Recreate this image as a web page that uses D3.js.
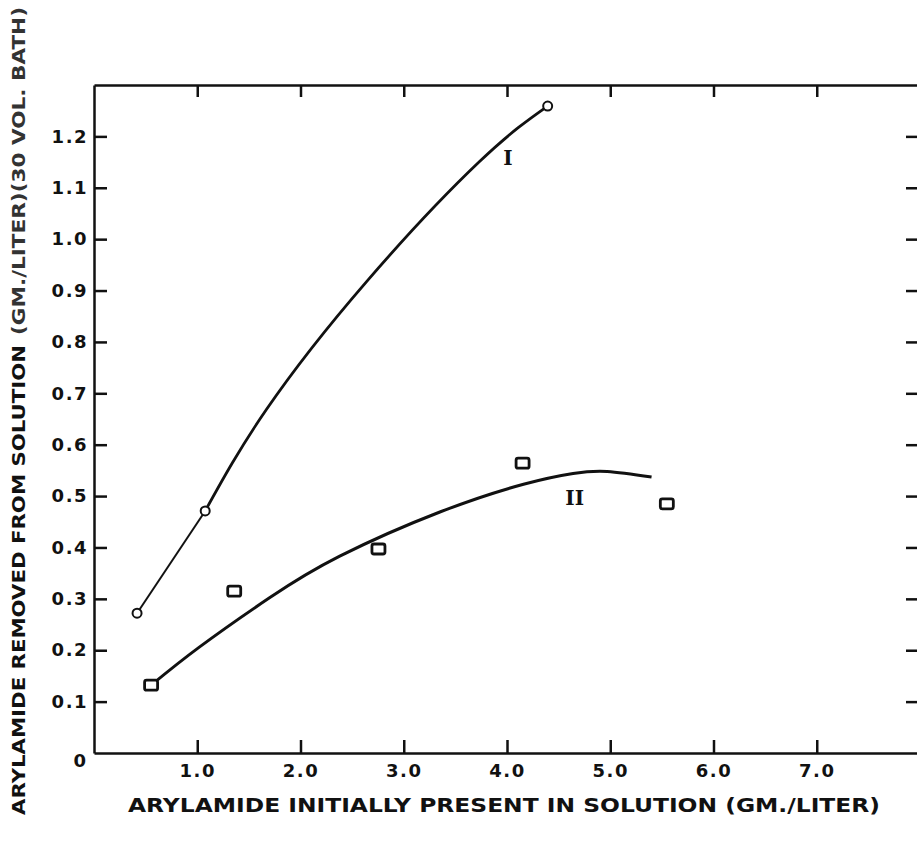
<!DOCTYPE html>
<html>
<head>
<meta charset="utf-8">
<script src="https://cdn.jsdelivr.net/npm/d3@7"></script>
<style>
  html, body { margin: 0; padding: 0; background: #fff; }
  svg { display: block; }
  .tick text { font-family: "DejaVu Sans", sans-serif; font-weight: bold; font-size: 18px; fill: #111; letter-spacing: 1.5px; }
  .axis path, .axis line { stroke: #111; stroke-width: 2.5px; }
</style>
</head>
<body>
<div id="chart"></div>
<script>
// tick values
const xTicks = [1, 2, 3, 4, 5, 6, 7];
const yTicks = [0.1, 0.2, 0.3, 0.4, 0.5, 0.6, 0.7, 0.8, 0.9, 1.0, 1.1, 1.2];

// curve I : measured points (open circles) and the drawn curve
const curveIPoints = [
    { x: 0.417, y: 0.272 },
    { x: 1.077, y: 0.471 },
    { x: 4.394, y: 1.259 }
];
const curveILine = [
    { x: 1.077, y: 0.471 },
    { x: 1.668, y: 0.668 },
    { x: 2.638, y: 0.917 },
    { x: 3.734, y: 1.151 },
    { x: 4.394, y: 1.259 }
];

// curve II : measured points (squares) and the drawn curve
const curveIIPoints = [
    { x: 0.553, y: 0.132 },
    { x: 1.358, y: 0.315 },
    { x: 2.755, y: 0.397 },
    { x: 4.151, y: 0.564 },
    { x: 5.548, y: 0.485 }
];
const curveIILine = [
    { x: 0.553, y: 0.132 },
    { x: 1.02, y: 0.206 },
    { x: 1.70, y: 0.302 },
    { x: 2.38, y: 0.383 },
    { x: 3.35, y: 0.469 },
    { x: 4.16, y: 0.523 },
    { x: 4.64, y: 0.544 },
    { x: 4.97, y: 0.548 },
    { x: 5.40, y: 0.537 }
];

const curveLabels = [
    { text: 'I', x: 4.01, y: 1.158 },
    { text: 'II', x: 4.656, y: 0.496 }
];

const W = 917, H = 843;
const margin = { top: 85, right: -3, bottom: 90, left: 94 };

const svg = d3.select('#chart').append('svg')
    .attr('width', W)
    .attr('height', H)
    .attr('viewBox', `0 0 ${W} ${H}`);

const x = d3.scaleLinear().domain([0, 8]).range([margin.left, W - margin.right]);
const y = d3.scaleLinear().domain([0, 1.3]).range([H - margin.bottom, margin.top]);

// axes, all ticks pointing inward
svg.append('g').attr('class', 'axis')
    .attr('transform', `translate(0,${y(0)})`)
    .call(d3.axisBottom(x).tickValues(xTicks).tickSize(-13).tickSizeOuter(0).tickPadding(11)
        .tickFormat(d3.format('.1f')));

svg.append('g').attr('class', 'axis')
    .attr('transform', `translate(0,${y(1.3)})`)
    .call(d3.axisTop(x).tickValues(xTicks).tickSize(-12).tickSizeOuter(0).tickFormat(''));

svg.append('g').attr('class', 'axis')
    .attr('transform', `translate(${x(0)},0)`)
    .call(d3.axisLeft(y).tickValues(yTicks).tickSize(-13).tickSizeOuter(0).tickPadding(6)
        .tickFormat(d3.format('.1f')));

svg.append('g').attr('class', 'axis')
    .attr('transform', `translate(${x(8)},0)`)
    .call(d3.axisRight(y).tickValues(yTicks).tickSize(-14).tickSizeOuter(0).tickFormat(''));

// origin "0"
svg.append('text')
    .attr('x', x(0) - 8)
    .attr('y', y(0) + 14)
    .attr('text-anchor', 'end')
    .style('font-family', '"DejaVu Sans", sans-serif')
    .style('font-weight', 'bold')
    .style('font-size', '18px')
    .attr('fill', '#111')
    .text('0');

// axis titles
svg.append('text')
    .attr('x', 128)
    .attr('y', 812)
    .attr('textLength', 752)
    .attr('lengthAdjust', 'spacingAndGlyphs')
    .style('font-family', '"DejaVu Sans", sans-serif')
    .style('font-weight', 'bold')
    .style('font-size', '19px')
    .attr('fill', '#111')
    .text('ARYLAMIDE INITIALLY PRESENT IN SOLUTION (GM./LITER)');

const yTitle = svg.append('g').attr('transform', 'translate(25,815) rotate(-90)');
yTitle.append('text')
    .attr('x', 0)
    .attr('y', 0)
    .attr('textLength', 470)
    .attr('lengthAdjust', 'spacingAndGlyphs')
    .style('font-family', '"DejaVu Sans", sans-serif')
    .style('font-weight', 'bold')
    .style('font-size', '18px')
    .attr('fill', '#111')
    .text('ARYLAMIDE REMOVED FROM SOLUTION');
yTitle.append('text')
    .attr('x', 480)
    .attr('y', 0)
    .attr('textLength', 328)
    .attr('lengthAdjust', 'spacingAndGlyphs')
    .style('font-family', '"DejaVu Sans", sans-serif')
    .style('font-weight', 'bold')
    .style('font-size', '17px')
    .attr('fill', '#333')
    .text('(GM./LITER)(30 VOL. BATH)');

// curves
const line = d3.line().x(d => x(d.x)).y(d => y(d.y)).curve(d3.curveNatural);

svg.append('path')
    .datum(curveIPoints.slice(0, 2))
    .attr('d', d3.line().x(d => x(d.x)).y(d => y(d.y)))
    .attr('fill', 'none')
    .attr('stroke', '#111')
    .attr('stroke-width', 2);

svg.append('path')
    .datum(curveILine)
    .attr('d', line)
    .attr('fill', 'none')
    .attr('stroke', '#111')
    .attr('stroke-width', 2.8);

svg.append('path')
    .datum(curveIILine)
    .attr('d', line)
    .attr('fill', 'none')
    .attr('stroke', '#111')
    .attr('stroke-width', 3);

// markers
svg.selectAll('circle.pt')
    .data(curveIPoints)
    .enter()
    .append('circle')
    .attr('class', 'pt')
    .attr('cx', d => x(d.x))
    .attr('cy', d => y(d.y))
    .attr('r', 4.5)
    .attr('fill', '#fff')
    .attr('stroke', '#111')
    .attr('stroke-width', 2);

svg.selectAll('rect.pt')
    .data(curveIIPoints)
    .enter()
    .append('rect')
    .attr('class', 'pt')
    .attr('x', d => x(d.x) - 6.5)
    .attr('y', d => y(d.y) - 5)
    .attr('width', 13)
    .attr('height', 10)
    .attr('rx', 2)
    .attr('fill', '#fff')
    .attr('stroke', '#111')
    .attr('stroke-width', 2.8);

// roman numeral curve labels
svg.selectAll('text.lbl')
    .data(curveLabels)
    .enter()
    .append('text')
    .attr('class', 'lbl')
    .attr('x', d => x(d.x))
    .attr('y', d => y(d.y))
    .attr('dy', '0.36em')
    .attr('text-anchor', 'middle')
    .style('font-family', '"DejaVu Serif", serif')
    .style('font-weight', 'bold')
    .style('font-size', '20px')
    .attr('fill', '#111')
    .text(d => d.text);
</script>
</body>
</html>
